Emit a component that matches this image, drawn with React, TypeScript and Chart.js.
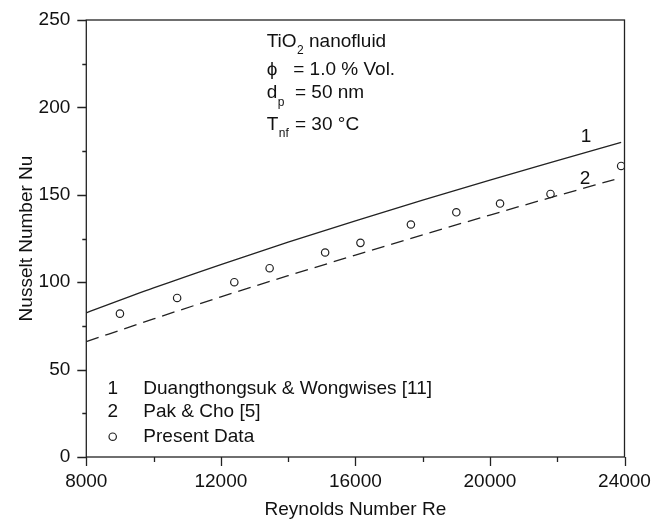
import React, { useEffect, useRef } from 'react';
import { Chart, registerables } from 'chart.js';

Chart.register(...registerables);

// Present data (open circles)
const reynoldsData = [9000, 10700, 12400, 13450, 15100, 16150, 17650, 19000, 20300, 21800, 23900];
const nusseltData = [82, 91, 100, 108, 117, 122.5, 133, 140, 145, 150.5, 166.5];

// Curve 1: Duangthongsuk & Wongwises [11] (solid)
const reLine1 = [8000, 10000, 12000, 14000, 16000, 18000, 20000, 22000, 23900];
const nuLine1 = [82.5, 96.7, 110.1, 122.9, 135.1, 147.0, 158.4, 169.5, 180.0];

// Curve 2: Pak & Cho [5] (dashed)
const reLine2 = [8000, 10000, 12000, 14000, 16000, 18000, 20000, 22000, 23700];
const nuLine2 = [66.0, 79.0, 91.6, 103.7, 115.5, 127.1, 138.4, 149.5, 158.7];

// Axes
const xMajorTicks = [8000, 12000, 16000, 20000, 24000];
const xMinorTicks = [10000, 14000, 18000, 22000];
const yMajorTicks = [0, 50, 100, 150, 200, 250];
const yMinorTicks = [25, 75, 125, 175, 225];

// Texts
const curveLabels = ['1', '2'];
const curveLabelRe = [22855, 22826];
const curveLabelNu = [183.2, 159.4];

const legendMarkers = ['1', '2', 'circle'];
const legendLabels = ['Duangthongsuk & Wongwises [11]', 'Pak & Cho [5]', 'Present Data'];
const legendMarkerRe = 8785;
const legendTextRe = 9695;
const legendNu = [39.3, 25.6, 11.6];

const infoRe = 13363;
const infoNu = [237.6, 221.8, 208.1, 189.9];
const infoLines = [
  [{ t: 'TiO' }, { t: '2', sub: true }, { t: ' nanofluid' }],
  [{ t: 'ϕ' }, { t: '= 1.0 % Vol.', at: 26.5 }],
  [{ t: 'd' }, { t: 'p', sub: true }, { t: '= 50 nm', at: 28.3 }],
  [{ t: 'T' }, { t: 'nf', sub: true }, { t: '= 30 °C', at: 28.3 }],
];

const FAMILY = '"Liberation Sans", Arial, "DejaVu Sans", sans-serif';
const font = (s: number) => `${s}px ${FAMILY}`;
const INK = '#111';
const LINE = '#222';

// plot frame (layout only)
const AREA = { left: 86.3, right: 624.5, top: 20, bottom: 457 };
const CANVAS_W = 652;
const CANVAS_H = 524;

const fixArea = {
  id: 'fixArea',
  afterLayout(chart: any) {
    const { left: L, right: R, top: T, bottom: B } = AREA;
    const x = chart.scales.x;
    const y = chart.scales.y;
    Object.assign(x, { left: L, right: R, top: B, bottom: CANVAS_H, width: R - L, height: CANVAS_H - B });
    Object.assign(y, { left: 0, right: L, top: T, bottom: B, width: L, height: B - T });
    x.configure();
    y.configure();
    Object.assign(chart.chartArea, { left: L, right: R, top: T, bottom: B, width: R - L, height: B - T });
  },
};

const overlay = {
  id: 'overlay',
  afterDraw(chart: any) {
    const { ctx, chartArea: a } = chart;
    const x = chart.scales.x;
    const y = chart.scales.y;
    ctx.save();
    // frame
    ctx.strokeStyle = LINE;
    ctx.lineWidth = 1.3;
    ctx.strokeRect(a.left, a.top, a.right - a.left, a.bottom - a.top);
    // ticks
    ctx.beginPath();
    const tick = (vals: number[], len: number, horiz: boolean) => {
      vals.forEach((v) => {
        if (horiz) {
          const px = Math.round(x.getPixelForValue(v)) + 0.5;
          ctx.moveTo(px, a.bottom);
          ctx.lineTo(px, a.bottom + len);
        } else {
          const py = Math.round(y.getPixelForValue(v)) + 0.5;
          ctx.moveTo(a.left, py);
          ctx.lineTo(a.left - len, py);
        }
      });
    };
    tick(xMajorTicks, 9, true);
    tick(xMinorTicks, 5, true);
    tick(yMajorTicks, 9, false);
    tick(yMinorTicks, 4, false);
    ctx.stroke();

    ctx.fillStyle = INK;
    ctx.textBaseline = 'middle';

    // curve labels
    ctx.font = font(19);
    ctx.textAlign = 'center';
    curveLabels.forEach((s, i) => {
      ctx.fillText(s, x.getPixelForValue(curveLabelRe[i]), y.getPixelForValue(curveLabelNu[i]));
    });

    // legend
    legendLabels.forEach((s, i) => {
      const cy = y.getPixelForValue(legendNu[i]);
      const mx = x.getPixelForValue(legendMarkerRe);
      if (legendMarkers[i] === 'circle') {
        ctx.beginPath();
        ctx.arc(mx, cy, 3.7, 0, Math.PI * 2);
        ctx.lineWidth = 1.2;
        ctx.strokeStyle = LINE;
        ctx.stroke();
      } else {
        ctx.textAlign = 'center';
        ctx.fillText(legendMarkers[i], mx, cy);
      }
      ctx.textAlign = 'left';
      ctx.fillText(s, x.getPixelForValue(legendTextRe), cy);
    });

    // info block
    ctx.textAlign = 'left';
    const x0 = x.getPixelForValue(infoRe);
    infoLines.forEach((parts: any[], i) => {
      const cy = y.getPixelForValue(infoNu[i]);
      let cx = x0;
      parts.forEach((p) => {
        if (p.at !== undefined) cx = x0 + p.at;
        if (p.sub) {
          ctx.font = font(12);
          ctx.fillText(p.t, cx + 0.5, cy + 9);
          cx += ctx.measureText(p.t).width + 0.5;
        } else {
          ctx.font = font(19);
          ctx.fillText(p.t, cx, cy);
          cx += ctx.measureText(p.t).width;
        }
      });
    });
    ctx.restore();
  },
};

export default function App() {
  const ref = useRef<HTMLCanvasElement | null>(null);
  useEffect(() => {
    if (!ref.current) return;
    Chart.defaults.font.family = FAMILY;
    const chart = new Chart(ref.current, {
      type: 'scatter',
      data: {
        datasets: [
          {
            label: legendLabels[0],
            data: reLine1.map((r, i) => ({ x: r, y: nuLine1[i] })),
            showLine: true,
            borderColor: LINE,
            borderWidth: 1.3,
            pointRadius: 0,
            cubicInterpolationMode: 'monotone',
          },
          {
            label: legendLabels[1],
            data: reLine2.map((r, i) => ({ x: r, y: nuLine2[i] })),
            showLine: true,
            borderColor: LINE,
            borderWidth: 1.3,
            borderDash: [13, 7],
            pointRadius: 0,
            cubicInterpolationMode: 'monotone',
          },
          {
            label: legendLabels[2],
            data: reynoldsData.map((r, i) => ({ x: r, y: nusseltData[i] })),
            showLine: false,
            pointRadius: 3.7,
            pointBorderWidth: 1.2,
            pointBackgroundColor: '#fff',
            pointBorderColor: LINE,
          },
        ],
      } as any,
      options: {
        responsive: false,
        animation: false,
        layout: { padding: { left: 0, right: 27.5, top: 20, bottom: 0 } },
        plugins: { legend: { display: false }, tooltip: { enabled: false } },
        scales: {
          x: {
            type: 'linear',
            min: 8000,
            max: 24000,
            afterFit: (s: any) => { s.height = CANVAS_H - AREA.bottom; },
            grid: { display: false, drawTicks: false },
            border: { display: false },
            ticks: {
              stepSize: 4000, padding: 13, color: INK, font: { size: 19 }, maxRotation: 0, autoSkip: false,
              callback: (v: any) => String(v),
            },
            title: { display: true, text: 'Reynolds Number Re', color: INK, font: { size: 19 }, padding: { top: 0, bottom: 3 } },
          },
          y: {
            type: 'linear',
            min: 0,
            max: 250,
            afterFit: (s: any) => { s.width = AREA.left; },
            grid: { display: false, drawTicks: false },
            border: { display: false },
            ticks: { stepSize: 50, padding: 16, color: INK, font: { size: 19 }, callback: (v: any) => String(v) },
            title: { display: true, text: 'Nusselt Number Nu', color: INK, font: { size: 19 }, padding: { top: 15.5, bottom: 0 } },
          },
        },
      } as any,
      plugins: [fixArea, overlay],
    });
    return () => chart.destroy();
  }, []);
  return (
    <div style={{ position: 'fixed', left: 0, top: 0, width: CANVAS_W, height: CANVAS_H, background: '#fff' }}>
      <canvas ref={ref} width={CANVAS_W} height={CANVAS_H} style={{ display: 'block' }} />
    </div>
  );
}
